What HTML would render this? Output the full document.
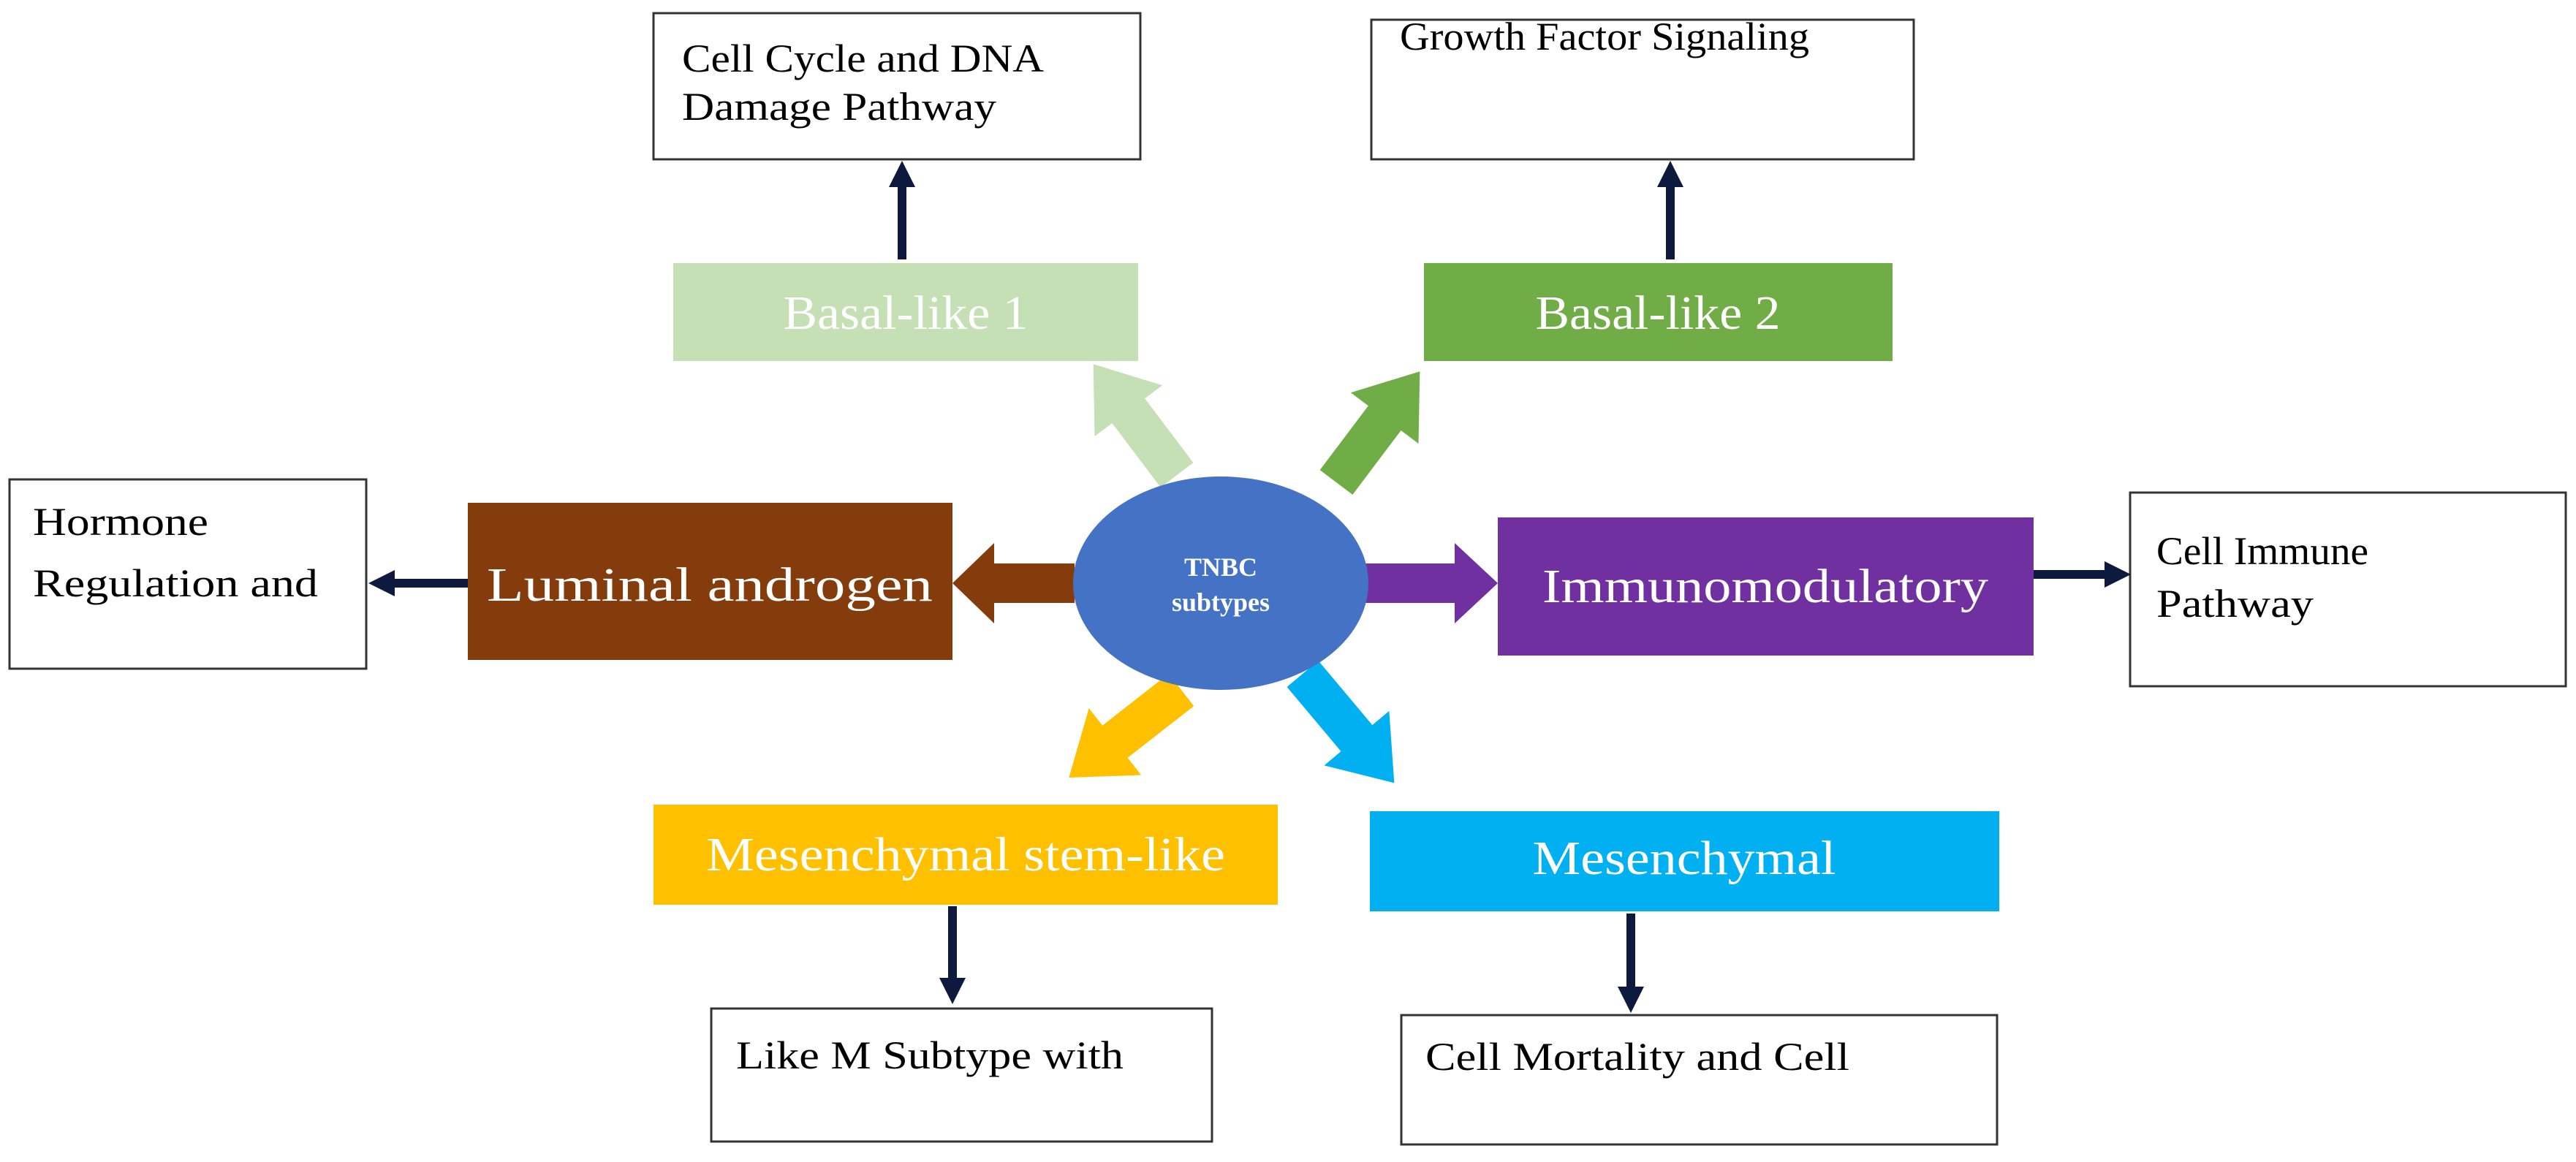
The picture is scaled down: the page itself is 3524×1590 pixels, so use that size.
<!DOCTYPE html>
<html><head><meta charset="utf-8"><style>
html,body{margin:0;padding:0;background:#fff;}
svg{display:block;}
text{font-family:"Liberation Serif",serif;}
</style></head><body>
<svg width="3524" height="1590" viewBox="0 0 3524 1590" xmlns="http://www.w3.org/2000/svg">
<defs>
<marker id="h" markerWidth="3" markerHeight="3" refX="1.5" refY="1.5" orient="auto" markerUnits="strokeWidth">
<path d="M0,0 L3,1.5 L0,3 Z" fill="#0d1a3d"/>
</marker>
</defs>
<rect width="3524" height="1590" fill="#fff"/>

<g fill="#fff" stroke="#333" stroke-width="3">
<rect x="894" y="18" width="666" height="200"/>
<rect x="1876" y="27" width="742" height="191"/>
<rect x="13" y="656" width="488" height="259"/>
<rect x="2914" y="674" width="596" height="265"/>
<rect x="973" y="1380" width="685" height="182"/>
<rect x="1917" y="1389" width="815" height="177"/>
</g>
<g font-size="54" fill="#000">
<text x="933" y="98" textLength="495" lengthAdjust="spacingAndGlyphs">Cell Cycle and DNA</text>
<text x="933" y="164" textLength="430" lengthAdjust="spacingAndGlyphs">Damage Pathway</text>
<text x="1915" y="68" textLength="560" lengthAdjust="spacingAndGlyphs">Growth Factor Signaling</text>
<text x="45" y="732" textLength="240" lengthAdjust="spacingAndGlyphs">Hormone</text>
<text x="45" y="816" textLength="390" lengthAdjust="spacingAndGlyphs">Regulation and</text>
<text x="2950" y="772" textLength="290" lengthAdjust="spacingAndGlyphs">Cell Immune</text>
<text x="2950" y="844" textLength="215" lengthAdjust="spacingAndGlyphs">Pathway</text>
<text x="1007" y="1462" textLength="530" lengthAdjust="spacingAndGlyphs">Like M Subtype with</text>
<text x="1950" y="1464" textLength="580" lengthAdjust="spacingAndGlyphs">Cell Mortality and Cell</text>
</g>

<rect x="921" y="360" width="636" height="134" fill="#c5e0b4"/>
<rect x="1948" y="360" width="641" height="134" fill="#70ad47"/>
<rect x="640" y="688" width="663" height="215" fill="#843c0c"/>
<rect x="2049" y="708" width="733" height="189" fill="#7030a0"/>
<rect x="894" y="1101" width="854" height="137" fill="#ffc000"/>
<rect x="1874" y="1110" width="861" height="137" fill="#00b0f0"/>
<g font-size="66" fill="#fff" text-anchor="middle">
<text x="1239" y="450" textLength="335" lengthAdjust="spacingAndGlyphs">Basal-like 1</text>
<text x="2268" y="450" textLength="335" lengthAdjust="spacingAndGlyphs">Basal-like 2</text>
<text x="971" y="822" textLength="610" lengthAdjust="spacingAndGlyphs">Luminal androgen</text>
<text x="2415" y="824" textLength="610" lengthAdjust="spacingAndGlyphs">Immunomodulatory</text>
<text x="1321" y="1191" textLength="710" lengthAdjust="spacingAndGlyphs">Mesenchymal stem-like</text>
<text x="2304" y="1196" textLength="415" lengthAdjust="spacingAndGlyphs">Mesenchymal</text>
</g>

<g stroke="#0d1a3d" stroke-width="12" fill="none" marker-end="url(#h)">
<line x1="1234" y1="355" x2="1234" y2="238"/>
<line x1="2285" y1="355" x2="2285" y2="238"/>
<line x1="640" y1="798" x2="522" y2="798"/>
<line x1="2782" y1="786" x2="2897" y2="786"/>
<line x1="1303" y1="1240" x2="1303" y2="1356"/>
<line x1="2231" y1="1250" x2="2231" y2="1368"/>
</g>

<g>
<polygon transform="translate(1610,650) rotate(-127)" points="0,-28 110,-28 110,-58 190,0 110,58 110,28 0,28" fill="#c5e0b4"/>
<polygon transform="translate(1828,660) rotate(-53)" points="0,-28 110,-28 110,-58 190,0 110,58 110,28 0,28" fill="#70ad47"/>
<polygon transform="translate(1470,798) rotate(180)" points="0,-27 110,-27 110,-55 167,0 110,55 110,27 0,27" fill="#843c0c"/>
<polygon transform="translate(1865,798)" points="0,-27 125,-27 125,-55 184,0 125,55 125,27 0,27" fill="#7030a0"/>
<polygon transform="translate(1616,944) rotate(142)" points="0,-28 115,-28 115,-58 195,0 115,58 115,28 0,28" fill="#ffc000"/>
<polygon transform="translate(1782,922) rotate(50)" points="0,-28 115,-28 115,-58 195,0 115,58 115,28 0,28" fill="#00b0f0"/>
</g>

<ellipse cx="1670" cy="798" rx="202" ry="146" fill="#4472c4"/>
<g font-size="36" font-weight="bold" fill="#fff" text-anchor="middle">
<text x="1670" y="788">TNBC</text>
<text x="1670" y="836">subtypes</text>
</g>
</svg>
</body></html>
